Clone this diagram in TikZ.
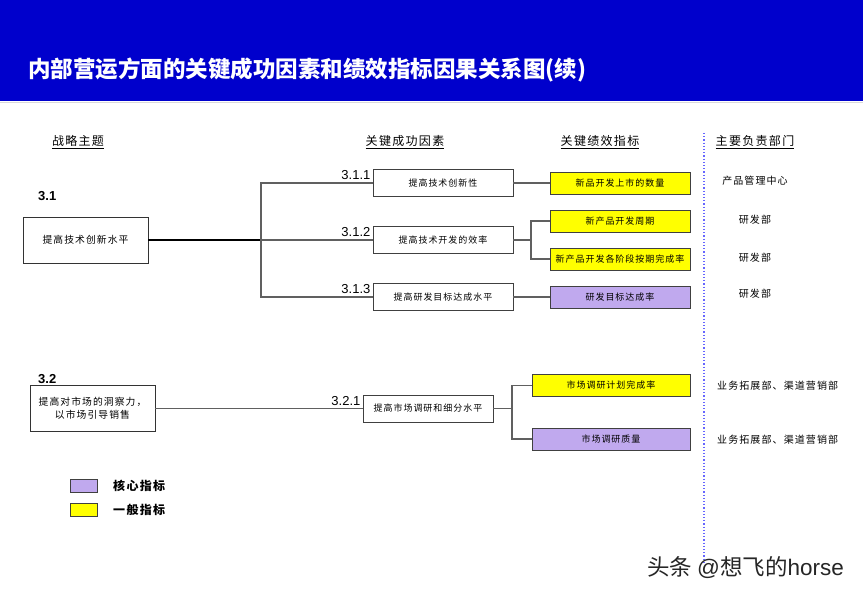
\documentclass[tikz,border=0pt]{standalone}
\usepackage{fontspec}
\setmainfont{Noto Sans CJK SC}
\newfontfamily\numfont{Liberation Sans}
\newfontfamily\spacedfont[LetterSpace=11]{Noto Sans CJK SC}
\definecolor{hdrblue}{HTML}{0000CC}
\definecolor{kpiyellow}{HTML}{FFFF00}
\definecolor{kpipurple}{HTML}{C0A9EE}
\definecolor{linegray}{HTML}{606060}
\tikzset{
  themebox/.style={draw=black!80, line width=0.8pt, minimum width=125pt, minimum height=46pt,
    inner sep=0pt, align=center, font=\spacedfont\fontsize{9.8}{13}\selectfont},
  ksfbox/.style={draw=black!75, line width=0.8pt, minimum width=140pt, minimum height=27pt,
    inner sep=0pt, font=\spacedfont\fontsize{9}{11}\selectfont},
  kpibox/.style={draw=black!75, line width=0.8pt, minimum width=140pt, minimum height=22pt,
    inner sep=0pt, font=\spacedfont\fontsize{9}{11}\selectfont},
  kpigeneral/.style={kpibox, fill=kpiyellow},
  kpicore/.style={kpibox, fill=kpipurple},
  colhead/.style={font=\spacedfont\fontsize{12}{14}\selectfont, inner sep=0pt},
  themenum/.style={font=\numfont\bfseries\fontsize{13}{15}\selectfont, inner sep=0pt},
  ksfnum/.style={font=\numfont\fontsize{13}{15}\selectfont, inner sep=0pt, anchor=south east},
  dept/.style={font=\spacedfont\fontsize{10}{12}\selectfont, inner sep=0pt},
  conn/.style={draw=linegray, line width=1.2pt},
  mainconn/.style={draw=black, line width=1.6pt},
  legendbox/.style={draw=black!75, line width=0.8pt, minimum width=27pt, minimum height=13pt, inner sep=0pt},
  legendtext/.style={font=\spacedfont\bfseries\fontsize{12}{14}\selectfont, inner sep=0pt, anchor=west}
}
\begin{document}
\begin{tikzpicture}[x=1pt, y=-1pt]
\useasboundingbox (0,0) rectangle (863,596);
\fill[white] (0,0) rectangle (863,596);
\fill[hdrblue] (0,0) rectangle (863,101);
\draw[black!15, line width=1pt] (0,102.5) -- (863,102.5);
\node[anchor=west, text=white, inner sep=0pt, font=\bfseries\fontsize{22.5}{26}\selectfont] (title) at (28,70)
  {内部营运方面的关键成功因素和绩效指标因果关系图(续)};

\node[colhead] (hdtheme) at (78,142) {\underline{战略主题}};
\node[colhead] (hdksf) at (405,142) {\underline{关键成功因素}};
\node[colhead] (hdkpi) at (600,142) {\underline{关键绩效指标}};
\node[colhead] (hddept) at (755,142) {\underline{主要负责部门}};

\draw[dotted, draw=blue!60, line width=1.2pt] (704,133) -- (704,562);

\node[themenum, anchor=south west] (n31) at (38,201) {3.1};
\node[themebox] (t31) at (85.5,240) {提高技术创新水平};

\node[ksfbox] (k311) at (443,183) {提高技术创新性};
\node[ksfbox] (k312) at (443,240) {提高技术开发的效率};
\node[ksfbox] (k313) at (443,297) {提高研发目标达成水平};
\node[ksfnum] (n311) at ([xshift=-2pt, yshift=3pt]k311.west) {3.1.1};
\node[ksfnum] (n312) at ([xshift=-2pt, yshift=3pt]k312.west) {3.1.2};
\node[ksfnum] (n313) at ([xshift=-2pt, yshift=3pt]k313.west) {3.1.3};

\node[kpigeneral] (p1) at (620,183) {新品开发上市的数量};
\node[kpigeneral] (p2) at (620,221) {新产品开发周期};
\node[kpigeneral] (p3) at (620,259) {新产品开发各阶段按期完成率};
\node[kpicore] (p4) at (620,297) {研发目标达成率};

\node[dept] (d1) at (755,181) {产品管理中心};
\node[dept] (d2) at (755,220) {研发部};
\node[dept] (d3) at (755,258) {研发部};
\node[dept] (d4) at (755,294) {研发部};

\coordinate (j31) at (261,240);
\coordinate (j312) at (531,240);
\draw[mainconn] (t31.east) -- (j31);
\draw[conn] (j31) |- (k311.west);
\draw[conn] (j31) -- (k312.west);
\draw[conn] (j31) |- (k313.west);
\draw[conn] (k311.east) -- (p1.west);
\draw[conn] (k312.east) -- (j312);
\draw[conn] (j312) |- (p2.west);
\draw[conn] (j312) |- (p3.west);
\draw[conn] (k313.east) -- (p4.west);

\node[themenum, anchor=south west] (n32) at (38,384) {3.2};
\node[themebox] (t32) at (92.5,408.5) {提高对市场的洞察力，\\以市场引导销售};

\node[ksfbox, minimum width=130pt] (k321) at (428,408.5) {提高市场调研和细分水平};
\node[ksfnum] (n321) at ([xshift=-2pt, yshift=3pt]k321.west) {3.2.1};

\node[kpigeneral, minimum width=158pt] (p5) at (611,385.5) {市场调研计划完成率};
\node[kpicore, minimum width=158pt] (p6) at (611,439) {市场调研质量};

\node[dept, anchor=west] (d5) at (717,386) {业务拓展部、渠道营销部};
\node[dept, anchor=west] (d6) at (717,440) {业务拓展部、渠道营销部};

\coordinate (j321) at (512,408.5);
\draw[conn] (t32.east) -- (k321.west);
\draw[conn] (k321.east) -- (j321);
\draw[conn] (j321) |- (p5.west);
\draw[conn] (j321) |- (p6.west);

\node[legendbox, fill=kpipurple] (lgcore) at (83.5,486) {};
\node[legendbox, fill=kpiyellow] (lggeneral) at (83.5,509.5) {};
\node[legendtext] (lgcoretext) at (113,486) {核心指标};
\node[legendtext] (lggeneraltext) at (113,509.5) {一般指标};

\node[anchor=west, inner sep=0pt, text=black!85, font=\fontsize{22.5}{26}\selectfont] (mark) at (647,568)
  {头条 {\numfont @}想飞的{\numfont horse}};
\end{tikzpicture}
\end{document}
